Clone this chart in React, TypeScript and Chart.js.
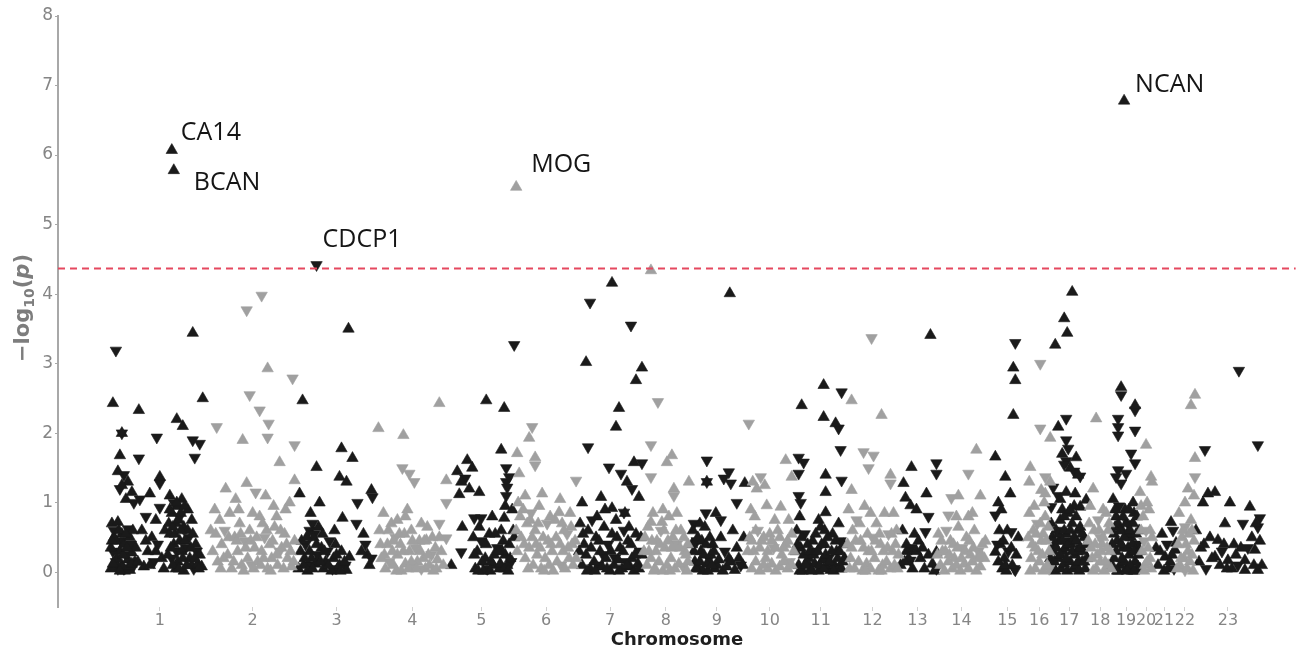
import React, { useEffect, useRef } from 'react';
import { Chart, registerables } from 'chart.js';
Chart.register(...registerables);

// Chromosome names (tick labels) and relative lengths (genome units)
const chromosomes = ['1','2','3','4','5','6','7','8','9','10','11','12','13','14','15','16','17','18','19','20','21','22','23'];
const chromLengths = [100,86,82,70,68,62,66,46,56,50,52,52,38,50,42,22,38,24,28,12,24,18,68];

// Each entry: [position within chromosome, signed -log10(p)]; sign = effect direction (+ up, - down)
const chr1: [number, number][] = [[6,-3.19],[83,3.44],[3,2.43],[29,2.33],[47,-1.94],[67,2.2],[73,2.1],[93,2.5],[83,-1.9],[90,-1.85],[85,-1.65],[12,2.0],[12,-2.0],[10,1.68],[29,-1.64],[50,1.37],[50,-1.28],[40,1.13],[50,-0.93],
[8,1.45],[14,-1.4],[18,1.3],[10,-1.2],[22,1.15],[16,1.05],[24,-1.0],[12,1.25],
[2,0.7],[8,0.72],[4,-0.6],[12,0.55],[18,-0.62],[6,0.45],[14,0.4],[20,0.5],[3,-0.3],[10,0.3],[16,-0.25],[22,0.28],[5,0.15],[12,0.1],[18,0.18],[24,-0.1],[8,-0.05],[15,0.02],[1,0.05],[20,0.03],[26,0.35],
[32,0.6],[36,-0.8],[42,0.5],[46,0.75],[38,0.3],[48,-0.4],[52,0.2],[34,0.08],[44,-0.15],[55,0.6],[30,-1.05],
[60,1.1],[64,-1.0],[68,0.95],[72,1.05],[62,0.85],[70,-0.8],[66,0.7],[74,0.65],[60,0.55],[78,0.6],[64,0.4],[70,0.45],[76,-0.35],[58,0.25],[62,-0.2],[68,0.15],[72,0.3],[80,0.2],[66,0.05],[74,0.02],[82,0.1],[86,0.4],[88,0.12],[84,-0.05],[90,0.25],[92,0.08],[78,0.9],[82,0.75],
[1,0.35],[4,0.5],[7,0.2],[9,0.6],[11,-0.45],[13,0.25],[17,0.35],[19,0.08],[21,-0.4],[23,0.6],[25,0.15],[3,0.12],[6,-0.15],[14,-0.05],[16,0.55],[2,0.45],[10,0.02],[22,0.12],
[59,0.7],[61,0.35],[63,0.1],[65,0.55],[67,-0.3],[69,0.05],[71,0.6],[73,0.2],[75,0.45],[77,0.1],[79,-0.5],[81,0.35],[83,0.55],[85,0.2],[87,-0.3],[89,0.05],[60,0.9],[67,1.0],[71,0.85],[75,0.95],[63,0.65],[69,0.75],
[28,0.15],[40,0.1],[46,0.3],[54,0.05],[36,0.45]];
const chr2: [number, number][] = [[37,-3.77],[52,-3.98],[58,2.93],[83,-2.79],[40,-2.55],[50,-2.33],[59,-2.14],[58,-1.94],[7,-2.09],[33,1.9],[85,-1.83],[70,1.58],[37,1.28],[85,1.32],
[5,0.9],[10,0.75],[15,-0.6],[20,0.85],[25,0.5],[30,0.7],[35,-0.45],[40,0.6],[45,0.35],[50,0.8],[55,-0.5],[60,0.4],[65,0.65],[70,-0.3],[75,0.55],[80,1.0],[85,0.45],
[3,0.3],[8,0.15],[12,0.4],[18,0.25],[22,0.05],[28,0.3],[32,0.1],[38,0.2],[42,-0.1],[48,0.15],[52,0.3],[58,0.05],[62,0.2],[68,0.1],[72,0.35],[78,0.2],[82,0.08],[26,1.05],[56,1.1],[46,-1.15],[64,0.95],[76,0.9],[16,1.2],
[1,0.6],[6,0.55],[11,0.05],[14,0.2],[19,0.5],[24,0.15],[27,0.45],[31,0.55],[34,0.02],[36,0.35],[41,0.45],[44,0.05],[47,0.5],[51,0.1],[54,0.2],[57,0.6],[61,0.02],[63,0.45],[67,0.25],[71,0.6],[74,0.05],[77,0.4],[81,0.3],[84,0.15],[29,0.9],[43,0.85],[53,0.7],[67,0.8]];
const chr3: [number, number][] = [[53,3.5],[7,2.47],[21,1.51],[46,1.78],[57,1.64],[44,1.37],[51,1.3],[62,-1.0],[76,1.18],[77,-1.08],[24,1.0],[17,-0.7],[14,-0.6],[47,0.78],[61,-0.7],[4,1.13],
[6,0.45],[10,-0.4],[14,0.3],[18,0.5],[22,-0.25],[26,0.35],[30,0.15],[34,-0.45],[38,0.2],[42,0.05],[46,0.3],[50,-0.1],[8,0.1],[12,0.02],[20,0.12],[28,0.05],[36,0.02],[44,0.1],[54,0.22],[16,0.2],[32,-0.3],[40,0.4],
[68,0.55],[70,-0.4],[72,0.25],[74,0.1],[76,-0.2],[66,0.3],[51,0.03],
[5,0.3],[9,0.2],[13,-0.1],[17,0.05],[21,0.4],[25,0.15],[29,0.3],[33,0.1],[37,-0.05],[41,0.25],[45,0.02],[49,0.15],[3,0.05],[11,0.5],[19,-0.55],[27,0.55],[39,0.6],[23,0.65],[15,0.85]];
const chr4: [number, number][] = [[1,2.07],[26,1.97],[62,2.43],[25,-1.5],[32,-1.42],[37,-1.3],[69,1.32],[69,-1.0],[62,-0.7],[69,-0.49],[49,0.46],
[2,0.6],[6,0.85],[10,0.4],[14,0.7],[18,-0.5],[22,0.55],[26,0.3],[30,0.9],[34,0.6],[38,-0.35],[42,0.45],[46,0.2],[50,0.65],[54,-0.25],[58,0.35],[4,0.2],[8,0.05],[12,-0.15],[16,0.1],[20,0.25],[24,0.02],[28,0.12],[32,0.3],[36,0.08],[40,0.15],[44,-0.05],[48,0.05],[52,0.1],[56,0.02],[60,0.18],[64,0.3],[16,0.45],[34,0.15],
[3,0.4],[7,0.25],[11,0.6],[15,0.3],[19,0.02],[23,0.4],[27,0.55],[31,0.05],[35,0.45],[39,0.05],[43,0.3],[47,0.45],[51,0.25],[55,0.5],[59,0.05],[62,0.5],[66,0.1],[20,0.75],[28,0.8],[44,0.7]];
const chr5: [number, number][] = [[39,2.47],[57,2.36],[54,1.76],[20,1.61],[10,1.45],[14,1.3],[18,-1.35],[22,1.2],[12,1.12],[25,1.5],[32,1.15],[59,-1.5],[59,-1.3],[59,-1.1],[27,-0.78],[34,-0.78],[15,0.65],[14,-0.29],[4,0.1],[67,-3.27],
[26,0.5],[30,0.3],[34,-0.45],[38,0.2],[42,0.55],[46,0.1],[50,-0.35],[54,0.6],[58,0.25],[62,0.4],[28,0.05],[36,0.02],[44,0.15],[52,0.05],[60,0.1],[64,-0.15],[40,-0.05],[56,0.45],
[62,-1.37],[60,-1.22],[57,0.78],[65,0.9],[66,0.6],[55,0.3],[63,0.2],[67,0.5],
[27,0.25],[31,0.02],[35,0.15],[39,0.4],[43,0.02],[47,0.25],[51,0.3],[53,0.12],[57,0.05],[61,0.02],[48,0.55],[32,0.65],[45,0.8],[58,0.95]];
const chr6: [number, number][] = [[17,-2.09],[14,1.93],[2,1.71],[20,1.65],[20,-1.54],[4,1.42],[61,-1.32],
[3,1.0],[8,0.9],[12,0.7],[16,-0.85],[20,0.6],[24,0.95],[28,0.5],[32,-0.7],[36,0.4],[40,0.75],[44,0.86],[48,0.3],[52,-0.55],[56,0.65],[60,0.45],
[2,0.3],[6,0.5],[10,0.2],[14,0.35],[18,0.1],[22,0.25],[26,0.05],[30,0.2],[34,0.1],[38,0.02],[42,0.15],[46,-0.1],[50,0.05],[54,0.2],[58,0.1],[27,1.13],[10,1.1],[45,1.05],
[1,0.6],[5,0.8],[9,0.4],[13,0.05],[17,0.5],[21,0.4],[25,0.35],[29,0.02],[33,0.45],[37,0.3],[41,0.5],[45,0.4],[49,0.6],[53,0.35],[57,0.4],[61,0.2],[15,0.75],[23,0.7],[35,0.8],[47,0.7],[55,0.85]];
const chr7: [number, number][] = [[9,3.02],[65,2.94],[59,2.76],[42,2.36],[39,2.09],[11,-1.8],[32,-1.51],[57,1.58],[65,-1.57],[44,-1.42],[50,1.3],[55,-1.2],[62,1.08],[24,1.08],[5,1.0],[35,0.92],[47,-0.86],[13,-3.88],[35,4.16],[54,-3.55],
[3,0.7],[7,0.4],[11,0.6],[15,-0.75],[19,0.5],[23,0.3],[27,0.65],[31,-0.4],[35,0.55],[39,0.75],[43,0.35],[47,-0.6],[51,0.45],[55,0.2],[59,0.55],[63,-0.3],
[5,0.1],[9,0.25],[13,0.05],[17,0.15],[21,-0.1],[25,0.08],[29,0.2],[33,0.02],[37,0.1],[41,0.18],[45,0.05],[49,-0.15],[53,0.08],[57,0.02],[61,0.12],[65,0.25],
[2,0.3],[6,0.55],[10,0.02],[14,0.35],[18,0.02],[22,0.45],[26,-0.25],[30,0.05],[34,0.3],[38,-0.2],[42,0.02],[46,0.3],[50,0.1],[54,0.4],[58,0.25],[62,0.05],[64,0.5],[20,0.8],[28,0.9],[40,0.5],[48,0.85],[52,0.65]];
const chr8: [number, number][] = [[8,4.34],[15,-2.45],[8,-1.83],[29,1.68],[24,1.58],[8,-1.37],[31,1.2],[31,-1.1],[46,1.3],[8,0.72],[19,0.72],
[2,0.5],[6,0.3],[10,0.85],[14,0.45],[18,-0.6],[22,0.35],[26,0.8],[30,0.5],[34,-0.4],[38,0.6],[42,0.3],[45,0.15],[4,0.1],[8,0.2],[12,0.05],[16,0.15],[20,0.02],[24,0.1],[28,0.2],[32,0.05],[36,0.12],[40,-0.08],[44,0.02],
[1,0.3],[5,0.65],[9,0.45],[13,0.3],[17,0.4],[21,0.6],[25,0.45],[29,0.35],[33,0.6],[37,0.35],[41,0.5],[45,0.4],[11,0.02],[27,0.02],[43,0.25],[20,0.9],[34,0.85]];
const chr9: [number, number][] = [[41,4.01],[18,-1.61],[18,1.3],[18,-1.3],[40,-1.44],[35,-1.35],[42,-1.28],[56,1.28],[48,-1.0],[32,-0.75],
[4,0.6],[8,-0.45],[12,0.3],[16,0.65],[20,-0.2],[24,0.4],[28,0.1],[32,0.5],[36,-0.3],[40,0.2],[44,0.6],[48,0.35],[52,-0.1],[55,0.5],[6,0.15],[10,0.05],[14,0.02],[18,0.12],[22,0.25],[26,0.05],[30,0.18],[34,0.02],[38,0.08],[42,0.15],[46,0.03],[50,0.2],[54,0.1],[27,0.85],
[3,0.4],[5,0.3],[7,0.05],[9,0.5],[11,0.15],[13,0.45],[15,0.25],[17,0.4],[19,0.02],[21,0.5],[23,0.1],[25,0.3],[5,-0.7],[11,0.7],[17,-0.85]];
const chr10: [number, number][] = [[4,-2.14],[8,1.3],[12,1.2],[16,-1.37],[20,1.25],[41,1.61],[47,1.37],[22,0.96],[36,0.94],[6,0.9],
[5,0.5],[9,0.3],[13,-0.6],[17,0.45],[21,0.2],[25,0.55],[29,-0.35],[33,0.6],[37,0.25],[41,0.4],[45,-0.15],[49,0.3],[7,0.05],[11,0.15],[15,0.02],[19,0.1],[23,0.05],[27,0.12],[31,0.02],[35,0.08],[39,0.15],[43,0.05],[47,0.1],
[3,0.3],[7,0.45],[11,0.6],[15,0.35],[19,0.5],[23,0.3],[27,0.45],[31,0.35],[35,0.5],[39,0.35],[43,0.45],[47,0.55],[10,0.8],[30,0.75],[44,0.75]];
const chr11: [number, number][] = [[7,2.4],[29,2.69],[47,-2.59],[29,2.23],[41,2.14],[44,-2.07],[46,-1.76],[4,-1.65],[9,-1.58],[4,-1.42],[31,1.4],[47,-1.32],[31,1.15],[4,-1.1],[6,-1.0],[31,0.86],
[2,0.6],[6,0.35],[10,-0.55],[14,0.2],[18,0.45],[22,-0.3],[26,0.65],[30,0.4],[34,-0.2],[38,0.55],[42,0.3],[46,-0.45],[50,0.2],[4,0.1],[8,0.02],[12,0.15],[16,0.05],[20,0.12],[24,0.02],[28,0.18],[32,0.08],[36,0.03],[40,0.1],[44,0.05],[48,0.15],[24,0.75],[44,0.7],
[1,0.3],[3,0.4],[5,0.02],[7,0.5],[9,0.25],[11,0.1],[13,0.4],[15,0.3],[17,0.02],[19,0.25],[21,0.55],[23,0.3],[25,0.1],[27,0.4],[29,0.05],[31,0.25],[33,0.5],[35,0.15],[37,0.3],[39,0.02],[41,0.45],[43,0.2],[45,0.3],[47,0.05],[49,0.4],[5,0.8],[30,0.6]];
const chr12: [number, number][] = [[25,-3.37],[5,2.47],[35,2.26],[17,-1.73],[27,-1.68],[22,-1.5],[44,1.4],[44,-1.28],[5,1.18],
[2,0.9],[6,0.6],[10,-0.75],[14,0.45],[18,0.95],[22,0.3],[26,-0.5],[30,0.7],[34,0.4],[38,0.85],[42,-0.55],[46,0.3],[50,0.6],[4,0.2],[8,0.05],[12,0.15],[16,0.02],[20,0.12],[24,0.05],[28,0.2],[32,0.02],[36,0.1],[40,0.15],[44,0.05],[48,0.1],[52,0.25],
[1,0.4],[5,0.35],[9,0.45],[13,0.7],[17,0.35],[21,0.55],[25,0.3],[29,0.45],[33,0.55],[37,0.3],[41,0.35],[45,0.55],[49,0.4],[3,0.05],[19,0.02],[35,0.02],[51,0.05],[24,0.85],[47,0.85]];
const chr13: [number, number][] = [[32,3.41],[13,1.51],[5,1.28],[7,1.07],[12,0.96],[38,-1.57],[38,-1.42],[28,1.13],[18,0.9],[30,-0.8],[27,-0.58],[13,-0.35],[12,-0.17],[38,0.29],[38,-0.05],
[22,0.2],[26,0.05],[34,0.12],[16,0.55],[4,0.6],[8,0.3],[2,0.1],[8,0.4],[10,0.2],[14,0.05],[18,0.3],[6,0.15],[20,0.45],[24,0.35],[30,0.25],[36,0.02]];
const chr14: [number, number][] = [[40,1.76],[32,-1.42],[15,-1.07],[22,1.1],[44,1.1],[12,-0.82],[32,0.8],
[2,0.55],[6,0.3],[10,-0.6],[14,0.45],[18,0.2],[22,0.65],[26,-0.35],[30,0.5],[34,0.25],[38,0.6],[42,-0.3],[46,0.4],[4,0.1],[8,0.02],[12,0.15],[16,0.05],[20,0.1],[24,0.02],[28,0.12],[32,0.05],[36,0.15],[40,0.02],[44,0.08],[48,0.2],
[1,0.25],[5,0.45],[9,0.3],[13,0.25],[17,0.4],[21,0.35],[25,0.2],[29,0.3],[33,0.45],[37,0.35],[41,0.2],[45,0.25],[49,0.45],[20,0.8],[36,0.85]];
const chr15: [number, number][] = [[9,1.66],[29,-3.3],[27,2.94],[29,2.76],[27,2.26],[19,1.37],[24,1.13],[12,1.0],[9,-0.82],[15,0.9],[25,-0.58],[9,0.29],[25,0.35],
[14,0.4],[18,0.2],[22,-0.3],[26,0.1],[30,0.25],[16,0.05],[20,0.02],[28,-0.05],[12,0.15],[32,0.5],[29,-0.03],[13,0.6],[17,0.45],[21,0.6],[19,0.1],[11,-0.4]];
const chr16: [number, number][] = [[12,-3.0],[12,-2.07],[22,1.93],[2,1.51],[1,1.3],[17,-1.37],[22,1.3],[13,1.18],[17,1.13],
[1,0.85],[5,0.6],[9,-0.7],[13,0.45],[17,0.8],[21,0.3],[3,0.2],[7,0.05],[11,0.15],[15,0.02],[19,0.1],[21,-0.05],[7,0.35],[15,0.55],
[0,0.5],[4,0.4],[8,0.55],[10,0.3],[14,0.25],[18,0.45],[20,0.65],[2,0.02],[12,0.7],[6,0.95],[16,1.0]];
const chr17: [number, number][] = [[22,4.03],[14,3.65],[17,3.44],[5,3.27],[16,-2.21],[8,2.09],[16,-1.9],[18,-1.78],
[12,1.7],[16,-1.6],[20,1.5],[24,-1.45],[28,1.4],[14,-1.55],[26,1.65],[30,-1.38],
[3,-1.22],[8,-1.1],[25,1.13],[1,-0.94],[30,0.94],[36,1.04],
[1,0.7],[4,0.4],[7,-0.6],[10,0.75],[13,0.3],[16,0.55],[19,-0.45],[22,0.7],[25,0.25],[28,0.6],[31,-0.35],[34,0.5],[37,0.2],
[2,0.1],[5,0.02],[8,0.2],[11,0.05],[14,0.12],[17,0.02],[20,0.15],[23,0.05],[26,0.1],[29,0.02],[32,0.15],[35,0.05],
[3,0.3],[9,0.45],[15,0.35],[21,0.4],[27,0.3],[33,0.3],[6,0.6],[12,0.9],[18,0.85],[24,0.95],[30,0.65],
[0,0.2],[2,0.5],[4,0.15],[6,0.35],[8,0.55],[10,0.25],[12,0.45],[14,0.6],[16,0.2],[18,0.4],[20,0.6],[22,0.3],[24,0.5],[26,0.45],[28,0.15],[30,0.35],[32,0.55],[34,0.15],[36,0.4],[10,1.05],[14,0.8],[20,0.9],[26,0.8],[16,1.15]];
const chr18: [number, number][] = [[8,2.21],[2,0.95],[6,0.6],[10,-0.75],[14,0.4],[18,0.85],[22,0.3],[4,0.2],[8,0.05],[12,0.15],[16,0.02],[20,0.1],[0,0.45],[12,-0.5],[20,0.6],
[1,0.7],[3,0.35],[5,0.02],[7,0.4],[9,0.25],[11,0.6],[13,0.3],[15,0.5],[17,0.15],[19,0.35],[21,0.7],[23,0.05],[5,1.2],[15,0.9]];
const chr19: [number, number][] = [[9,2.66],[9,-2.55],[23,2.4],[23,-2.33],[6,-2.21],[6,-2.09],[6,-1.97],[23,-2.04],[19,-1.71],[23,-1.57],[6,-1.47],[4,-1.37],[9,-1.28],[14,-1.42],[21,1.0],
[1,1.05],[4,0.8],[7,-0.95],[10,0.6],[13,0.9],[16,-0.7],[19,0.5],[22,0.85],[25,-0.4],[28,0.3],
[2,0.2],[5,0.45],[8,0.1],[11,0.35],[14,0.05],[17,0.25],[20,0.02],[23,0.15],[26,0.08],
[3,0.65],[9,0.4],[15,0.55],[21,0.7],[27,0.6],[6,0.02],[12,0.15],[18,0.1],[24,0.3],[0,0.1],
[0,0.4],[2,0.55],[4,0.3],[6,0.7],[8,0.6],[10,0.2],[12,0.5],[14,0.7],[16,0.35],[18,0.6],[20,0.4],[22,0.3],[24,0.55],[26,0.25],[28,0.05],[3,0.9],[11,0.8],[17,0.9],[25,0.8],[5,0.02],[15,0.02],[22,0.02]];
const chr20: [number, number][] = [[6,1.83],[11,1.37],[12,1.3],[0,1.15],[3,0.8],[6,-0.6],[9,0.9],[12,0.5],[2,0.3],[5,0.1],[8,0.35],[11,0.05],[4,-0.45],[10,0.2],
[1,0.6],[4,0.02],[7,0.15],[10,0.6],[1,0.95],[7,1.0]];
const chr21: [number, number][] = [[19,0.72],[21,-0.6],[24,0.42],[13,0.22],[23,0.32],[10,0.55],[15,-0.4],[6,0.1],[12,0.02],[18,0.15],[22,-0.05],[8,0.3],[16,0.05],[20,0.25],[4,0.35]];
const chr22: [number, number][] = [[19,2.55],[15,2.4],[19,1.64],[19,-1.37],[12,1.2],[18,1.1],[9,1.0],[3,0.85],[6,0.5],[9,-0.65],[12,0.3],[15,0.75],[18,0.45],[4,0.1],[8,0.2],[11,0.05],[14,0.15],[17,0.02],[9,-0.03],
[2,0.4],[5,0.2],[7,0.6],[10,0.4],[13,0.55],[16,0.25],[1,0.05],[16,0.6]];
const chr23: [number, number][] = [[45,-2.9],[64,-1.83],[11,-1.76],[14,1.13],[21,1.15],[9,1.0],[36,1.0],[56,0.94],[49,-0.7],[31,0.7],[66,-0.78],[64,-0.65],[7,0.35],[24,0.46],[21,0.22],[34,0.17],[51,0.17],[61,0.32],[64,0.03],[51,0.03],
[2,0.6],[16,0.5],[28,-0.3],[40,0.4],[44,-0.1],[58,0.5],[38,0.05],[26,0.1],[12,-0.05],[54,-0.35],[68,0.1],
[5,0.15],[10,0.4],[18,0.2],[30,0.4],[33,0.05],[42,0.25],[47,0.35],[60,0.1],[66,0.45],[62,0.7]];

// Annotated genes
const geneNames = ['CA14', 'BCAN', 'CDCP1', 'MOG', 'NCAN'];
const geneChrom = [1, 1, 3, 6, 19];
const genePos = [62, 64, 21, 1, 12];
const geneSignedLogP = [6.07, 5.78, -4.42, 5.54, 6.78];

// significance threshold (-log10 p)
const threshold = 4.37;

const chromData = [chr1,chr2,chr3,chr4,chr5,chr6,chr7,chr8,chr9,chr10,chr11,chr12,chr13,chr14,chr15,chr16,chr17,chr18,chr19,chr20,chr21,chr22,chr23];

// style
const BLACK = '#1a1a1a';
const GRAY = '#a0a0a0';
const labelOffsets = [[9, -10], [20, 20], [6, -18], [15, -15], [11, -9]];

export default function App() {
  const ref = useRef<HTMLCanvasElement | null>(null);
  useEffect(() => {
    const starts: number[] = [];
    let acc = 0;
    chromLengths.forEach((l) => { starts.push(acc); acc += l; });
    const centers = chromLengths.map((l, i) => starts[i] + l / 2);

    const pts: any = { bu: [], bd: [], gu: [], gd: [] };
    const add = (ci: number, pos: number, s: number) => {
      const c = ci % 2 === 0 ? 'b' : 'g';
      const d = s < 0 ? 'd' : 'u';
      pts[c + d].push({ x: starts[ci] + pos, y: Math.abs(s) });
    };
    chromData.forEach((arr, ci) => arr.forEach(([p, s]) => add(ci, p, s)));
    geneNames.forEach((_, gi) => add(geneChrom[gi] - 1, genePos[gi], geneSignedLogP[gi]));

    const xMin = -52, xMax = 1188;

    const mk = (data: any[], color: string, rot: number) => ({
      type: 'scatter' as const,
      data,
      pointStyle: 'triangle',
      pointRadius: 6.6,
      pointRotation: rot,
      backgroundColor: color,
      borderColor: color,
      borderWidth: 0.6,
    });

    const labelPlugin = {
      id: 'labels',
      afterDatasetsDraw(chart: any) {
        const { ctx } = chart;
        const xs = chart.scales.x, ys = chart.scales.y;
        ctx.save();
        ctx.font = '25px "Open Sans"';
        ctx.fillStyle = '#151515';
        ctx.textBaseline = 'alphabetic';
        ctx.textAlign = 'left';
        geneNames.forEach((name, gi) => {
          const px = xs.getPixelForValue(starts[geneChrom[gi] - 1] + genePos[gi]);
          const py = ys.getPixelForValue(Math.abs(geneSignedLogP[gi]));
          ctx.fillText(name, px + labelOffsets[gi][0], py + labelOffsets[gi][1]);
        });
        ctx.restore();

        // y axis title: −log10(p)
        ctx.save();
        ctx.fillStyle = '#7d7d7d';
        ctx.translate(22, 308);
        ctx.rotate(-Math.PI / 2);
        const parts = [
          { t: '\u2212log', f: 'bold 21px "DejaVu Sans"', dy: 0 },
          { t: '10', f: 'bold 14px "DejaVu Sans"', dy: 5 },
          { t: '(', f: 'bold 21px "DejaVu Sans"', dy: 0 },
          { t: 'p', f: 'italic bold 21px "DejaVu Sans"', dy: 0 },
          { t: ')', f: 'bold 21px "DejaVu Sans"', dy: 0 },
        ];
        let total = 0;
        const widths = parts.map((p) => { ctx.font = p.f; const w = ctx.measureText(p.t).width; total += w; return w; });
        let x0 = -total / 2;
        ctx.textBaseline = 'alphabetic';
        parts.forEach((p, i) => {
          ctx.font = p.f;
          ctx.fillText(p.t, x0, 7 + p.dy);
          x0 += widths[i];
        });
        ctx.restore();
      },
    };

    const chart = new Chart(ref.current as HTMLCanvasElement, {
      type: 'scatter',
      data: {
        datasets: [
          {
            type: 'line' as const,
            data: [{ x: xMin, y: threshold }, { x: xMax, y: threshold }],
            borderColor: '#e5485f',
            borderWidth: 2,
            borderDash: [7, 5],
            pointRadius: 0,
            fill: false,
          } as any,
          mk(pts.gu, GRAY, 0),
          mk(pts.gd, GRAY, 180),
          mk(pts.bu, BLACK, 0),
          mk(pts.bd, BLACK, 180),
        ],
      },
      options: {
        animation: false,
        responsive: false,
        events: [],
        layout: { padding: { top: 16, right: 5, left: 0, bottom: 0 } },
        plugins: { legend: { display: false }, tooltip: { enabled: false } },
        scales: {
          x: {
            type: 'linear',
            min: xMin,
            max: xMax,
            afterBuildTicks: (scale: any) => { scale.ticks = centers.map((v) => ({ value: v })); },
            afterFit: (scale: any) => { scale.height = 46; },
            ticks: {
              autoSkip: false,
              maxRotation: 0,
              padding: 0,
              color: '#858585',
              font: { family: '"DejaVu Sans"', size: 16 },
              callback: (_v: any, i: number) => chromosomes[i],
            },
            grid: { drawOnChartArea: false, tickLength: 4, color: '#d0d0d0' },
            border: { display: false },
            title: {
              display: true,
              text: 'Chromosome',
              color: '#1e1e1e',
              font: { family: '"DejaVu Sans"', size: 18, weight: 'bold' },
              padding: { top: 0, bottom: 2 },
            },
          },
          y: {
            type: 'linear',
            min: -0.5,
            max: 8,
            afterBuildTicks: (scale: any) => {
              scale.ticks = [0, 1, 2, 3, 4, 5, 6, 7, 8].map((v) => ({ value: v }));
            },
            afterFit: (scale: any) => { scale.width = 58; },
            ticks: {
              padding: 2,
              color: '#858585',
              font: { family: '"DejaVu Sans"', size: 17 },
            },
            grid: { drawOnChartArea: false, tickLength: 3, color: '#a8a8a8' },
            border: { display: true, color: '#a8a8a8', width: 2 },
          },
        },
      } as any,
      plugins: [labelPlugin],
    });
    return () => chart.destroy();
  }, []);

  return (
    <div style={{ position: 'absolute', left: 0, top: 0, width: 1303, height: 653, background: '#fff' }}>
      <canvas ref={ref} width={1303} height={653} />
    </div>
  );
}
